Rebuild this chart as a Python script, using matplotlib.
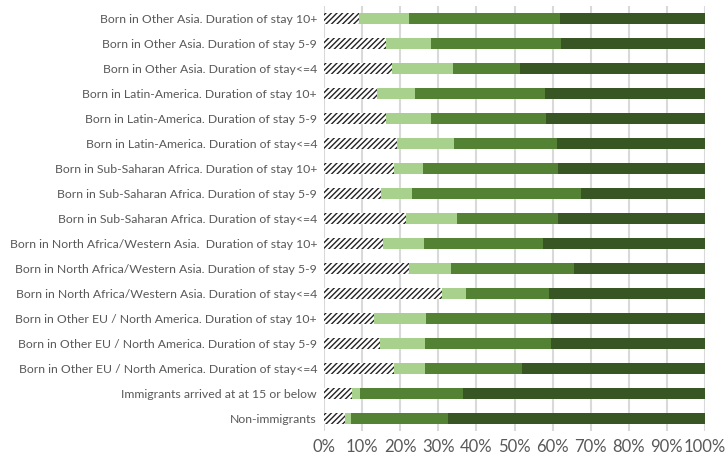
import matplotlib

matplotlib.use("Agg")
import matplotlib.pyplot as plt
import numpy as np
from matplotlib.ticker import FuncFormatter, MultipleLocator

# Categories, bottom to top
categories = [
    "Non-immigrants",
    "Immigrants arrived at at 15 or below",
    "Born in Other EU / North America. Duration of stay<=4",
    "Born in Other EU / North America. Duration of stay 5-9",
    "Born in Other EU / North America. Duration of stay 10+",
    "Born in North Africa/Western Asia. Duration of stay<=4",
    "Born in North Africa/Western Asia. Duration of stay 5-9",
    "Born in North Africa/Western Asia.  Duration of stay 10+",
    "Born in Sub-Saharan Africa. Duration of stay<=4",
    "Born in Sub-Saharan Africa. Duration of stay 5-9",
    "Born in Sub-Saharan Africa. Duration of stay 10+",
    "Born in Latin-America. Duration of stay<=4",
    "Born in Latin-America. Duration of stay 5-9",
    "Born in Latin-America. Duration of stay 10+",
    "Born in Other Asia. Duration of stay<=4",
    "Born in Other Asia. Duration of stay 5-9",
    "Born in Other Asia. Duration of stay 10+",
]

# Segment shares (%), same order as categories
seg1 = [5.5, 7.3, 18.4, 14.7, 13.1, 31.0, 22.3, 15.5, 21.5, 15.0, 18.4, 19.2, 16.3, 13.9, 17.8, 16.3, 9.2]
seg2 = [1.6, 2.1, 8.1, 11.8, 13.7, 6.3, 11.0, 10.7, 13.4, 8.1, 7.6, 14.9, 11.8, 10.0, 16.1, 11.8, 13.1]
seg3 = [25.4, 27.1, 25.5, 33.1, 32.8, 21.8, 32.3, 31.3, 26.5, 44.4, 35.4, 27.1, 30.2, 34.1, 17.5, 34.1, 39.6]
seg4 = [100 - a - b - c for a, b, c in zip(seg1, seg2, seg3)]

plt.rcParams["font.family"] = ["Lato", "DejaVu Sans"]
plt.rcParams["hatch.linewidth"] = 1.0

fig = plt.figure(figsize=(7.25, 4.59), dpi=100)
ax = fig.add_axes([324 / 725, 28 / 459, 381 / 725, 425 / 459])

y = np.arange(len(categories))
h = 0.44
left = np.zeros(len(categories))
ax.barh(y, seg1, left=left, height=h, color="white", edgecolor="#222222",
        hatch="//////", linewidth=0, zorder=3)
left += seg1
ax.barh(y, seg2, left=left, height=h, color="#A9D18E", linewidth=0, zorder=3)
left += seg2
ax.barh(y, seg3, left=left, height=h, color="#548235", linewidth=0, zorder=3)
left += seg3
ax.barh(y, seg4, left=left, height=h, color="#375623", linewidth=0, zorder=3)

ax.set_xlim(0, 100)
ax.set_ylim(-0.5, len(categories) - 0.5)
ax.xaxis.set_major_locator(MultipleLocator(10))
ax.xaxis.set_major_formatter(FuncFormatter(lambda v, p: f"{v:.0f}%"))
ax.set_yticks(y)
ax.set_yticklabels(categories)
ax.tick_params(axis="both", length=0, colors="#595959")
ax.tick_params(axis="y", labelsize=8.8, pad=5)
ax.tick_params(axis="x", labelsize=12, pad=6)
ax.grid(axis="x", color="#D9D9D9", linewidth=1.5, zorder=0)
for s in ax.spines.values():
    s.set_visible(False)

fig.savefig("out.png", dpi=100)
plt.close(fig)
